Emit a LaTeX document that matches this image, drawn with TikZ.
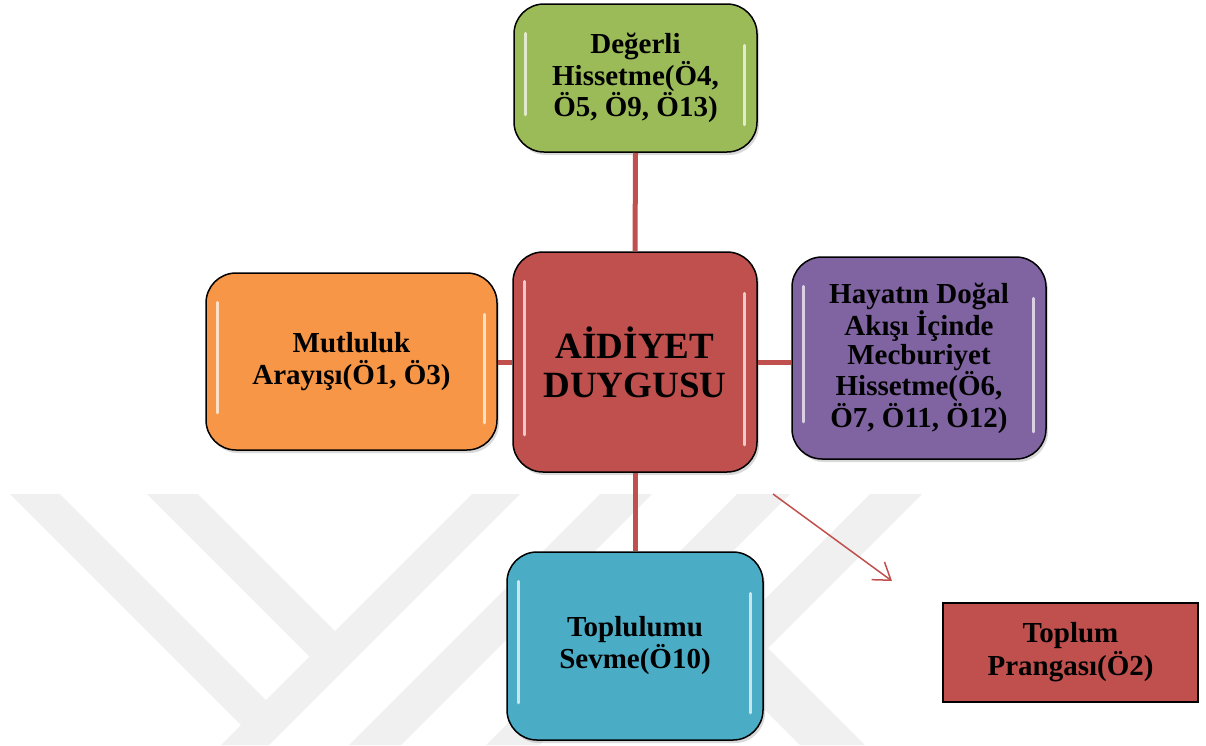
\documentclass[tikz,border=0pt]{standalone}
\usepackage{fontspec}
\setmainfont{Liberation Serif}
\usetikzlibrary{shadows,calc,arrows.meta}

\definecolor{boxgreen}{HTML}{9BBB59}
\definecolor{boxorange}{HTML}{F79646}
\definecolor{boxred}{HTML}{C0504D}
\definecolor{boxpurple}{HTML}{8064A2}
\definecolor{boxblue}{HTML}{4BACC6}
\definecolor{linkred}{HTML}{C0504D}
\definecolor{wmgray}{RGB}{240,240,240}

% white highlight strokes along the inner left and right edges of a box
\newcommand\glossybox[1]{%
  \draw[glint] ($(#1.north west)+(12pt,-30pt)$) -- ($(#1.south west)+(12pt,38pt)$);
  \draw[glint] ($(#1.north east)+(-13pt,-42pt)$) -- ($(#1.south east)+(-13pt,28pt)$);
}

\begin{document}
\begin{tikzpicture}[x=1pt,y=-1pt,
  box/.style={draw=black, line width=1.5pt, rounded corners=30pt, align=center,
    inner sep=0pt, text=black, font=\fontsize{29}{30}\selectfont\bfseries,
    drop shadow={shadow xshift=2pt, shadow yshift=-3pt, opacity=0.3}},
  plainbox/.style={draw=black, line width=2pt, align=center, inner sep=0pt,
    text=black, font=\fontsize{29}{33}\selectfont\bfseries},
  link/.style={draw=linkred, line width=5pt},
  glint/.style={draw=white, line width=3pt, line cap=round, opacity=0.7},
  wm/.style={fill=wmgray}]

\useasboundingbox (0,0) rectangle (1206,745);

% faint watermark bands
\fill[wm] (10,494) -- (60,494) -- (283,717) -- (258,742) -- cycle;
\fill[wm] (147,494) -- (198,494) -- (352,648) -- (326.5,673.5) -- cycle;
\fill[wm] (472,494) -- (520,494) -- (269,745) -- (221,745) -- cycle;
\fill[wm] (600,494) -- (652,494) -- (401,745) -- (349,745) -- cycle;
\fill[wm] (737,494) -- (790,494) -- (539,745) -- (486,745) -- cycle;
\fill[wm] (870,494) -- (922,494) -- (768,648) -- (865,745) -- (800,745) -- (709.5,654.5) -- cycle;

% boxes
\node[box, fill=boxgreen, minimum width=243pt, minimum height=148pt] (deger) at (635.5,78)
  {Değerli\\Hissetme(Ö4,\\Ö5, Ö9, Ö13)};
\node[box, fill=boxred, minimum width=244pt, minimum height=220pt,
  font=\fontsize{37}{39}\selectfont\bfseries] (aidiyet) at (635,362)
  {AİDİYET\\DUYGUSU};
\node[box, fill=boxorange, minimum width=291pt, minimum height=177pt,
  font=\fontsize{29}{32}\selectfont\bfseries] (mutlu) at (351.5,361.5)
  {Mutluluk\\Arayışı(Ö1, Ö3)};
\node[box, fill=boxpurple, minimum width=254pt, minimum height=202pt,
  font=\fontsize{29}{28.8}\selectfont\bfseries] (hayat) at (919,358)
  {Hayatın Doğal\\Akışı İçinde\\Mecburiyet\\Hissetme(Ö6,\\Ö7, Ö11, Ö12)};
\node[box, fill=boxblue, minimum width=256pt, minimum height=188pt,
  font=\fontsize{29}{32}\selectfont\bfseries] (sevme) at (635,646)
  {Toplulumu\\Sevme(Ö10)};
\node[plainbox, fill=boxred, minimum width=255pt, minimum height=99pt] (pranga) at (1070.5,652.5)
  {Toplum\\Prangası(Ö2)};

\glossybox{deger}
\glossybox{aidiyet}
\glossybox{mutlu}
\glossybox{hayat}
\glossybox{sevme}

% connectors
\draw[link] (deger.south) -- (aidiyet.north);
\draw[link] (aidiyet.south) -- (sevme.north);
\draw[link] (aidiyet.west) -- (aidiyet.west -| mutlu.east);
\draw[link] (aidiyet.east) -- (aidiyet.east -| hayat.west);

% free arrow
\coordinate (arrS) at (773,494);
\coordinate (arrE) at (892,581);
\draw[linkred, line width=1.5pt, -{Straight Barb[length=16pt,width=22pt]}] (arrS) -- (arrE);

\end{tikzpicture}
\end{document}
